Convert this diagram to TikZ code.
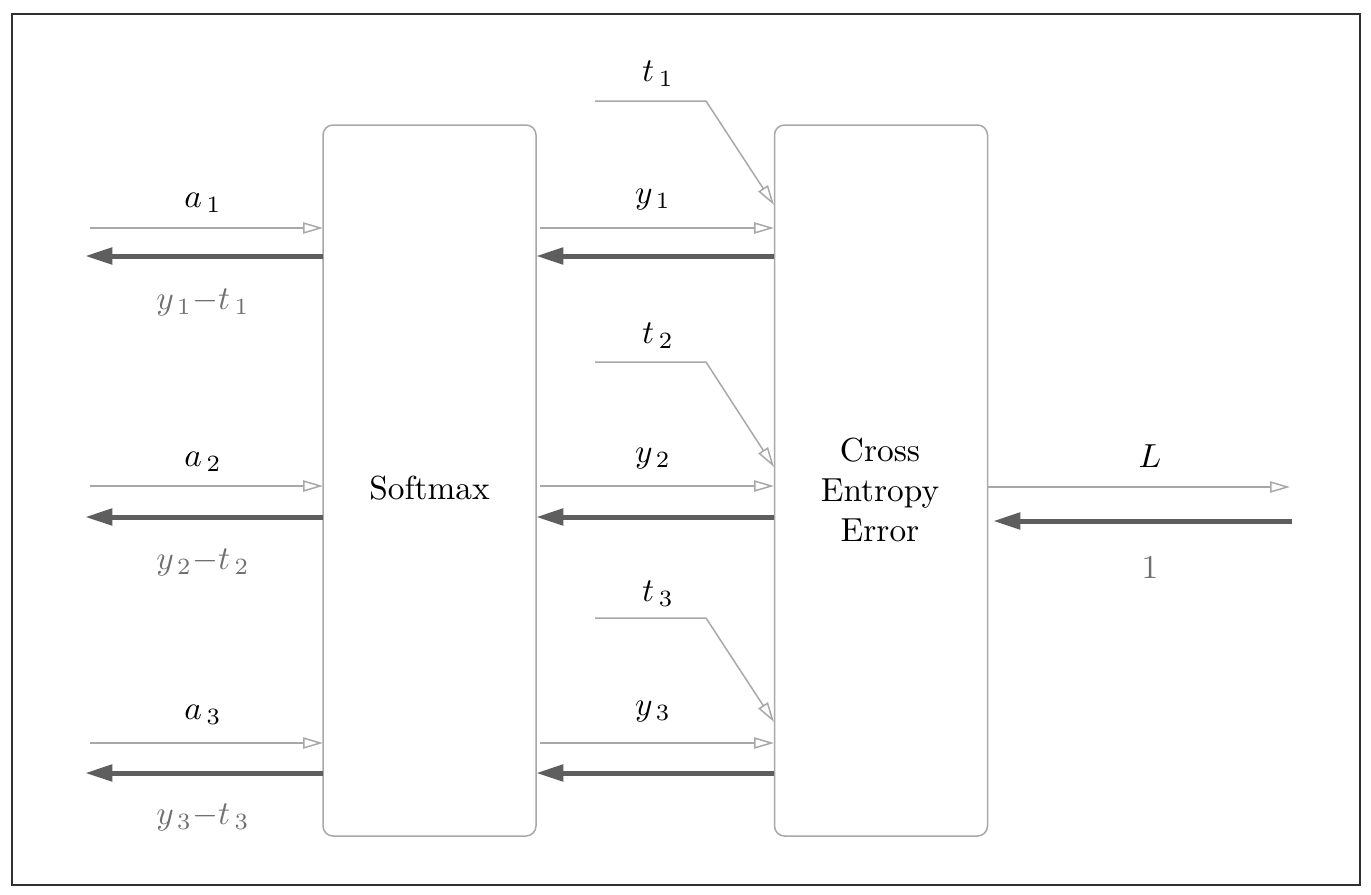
\documentclass[tikz,border=0pt]{standalone}
\usetikzlibrary{arrows.meta}
\definecolor{fwd}{HTML}{A8A8A8}
\definecolor{bwd}{HTML}{5E5E5E}
\definecolor{lblgray}{HTML}{707070}
\definecolor{frame}{HTML}{303030}
\tikzset{
  fwdarrow/.style={draw=fwd, line width=0.45pt, -{Triangle[open,length=6pt,width=3.4pt]}},
  bwdarrow/.style={draw=bwd, line width=1.5pt, -{Triangle[length=8.2pt,width=4.8pt]}},
  layerbox/.style={draw=fwd, line width=0.45pt, rounded corners=3pt, minimum width=63.9pt, minimum height=213.3pt, inner sep=0pt},
  boxtext/.style={inner sep=0pt, align=center, font=\fontsize{10}{12}\selectfont},
  lbl/.style={inner sep=0pt, font=\fontsize{10}{12}\selectfont},
  glbl/.style={lbl, text=lblgray},
}
\begin{document}
\begin{tikzpicture}[x=0.3pt,y=-0.3pt]
\useasboundingbox (0,0) rectangle (1371,895);
\draw[frame, line width=0.35pt] (12,14) rectangle (1360,885);
% boxes
\node[layerbox] (sm) at (429.5,480.5) {};
\node[layerbox] (ce) at (881,480.5) {};
\node[boxtext] (smtext) at (429.5,488) {Softmax};
\node[boxtext] (cetext) at (880,490) {Cross\\Entropy\\Error};
% left side and middle
\foreach \i/\yf/\yb/\ya/\yd in {1/228/256/203/302, 2/486/517/462/562, 3/743/773/715/817}{
  \coordinate (ain\i) at (90,\yf);
  \coordinate (smin\i) at (323,\yf);
  \coordinate (smout\i) at (323,\yb);
  \coordinate (gout\i) at (85,\yb);
  \draw[fwdarrow] (ain\i) -- (smin\i);
  \draw[bwdarrow] (smout\i) -- (gout\i);
  \node[lbl] (alab\i) at (203,\ya) {$a_{\,\i}$};
  \node[glbl] (dlab\i) at (203,\yd) {$y_{\,\i}{-}t_{\,\i}$};
  \coordinate (yst\i) at (540,\yf);
  \coordinate (cein\i) at (774,\yf);
  \coordinate (ceout\i) at (774,\yb);
  \coordinate (smback\i) at (536,\yb);
  \draw[fwdarrow] (yst\i) -- (cein\i);
  \draw[bwdarrow] (ceout\i) -- (smback\i);
  \node[lbl] (ylab\i) at (653,\ya-3) {$y_{\,\i}$};
}
% t inputs
\foreach \i/\yt/\ye/\yl in {1/101/205/74, 2/362/467/336, 3/618/722/594}{
  \coordinate (tst\i) at (595,\yt);
  \coordinate (tbend\i) at (706,\yt);
  \coordinate (tend\i) at (774,\ye);
  \draw[fwdarrow] (tst\i) -- (tbend\i) -- (tend\i);
  \node[lbl] (tlab\i) at (658,\yl) {$t_{\,\i}$};
}
% right side
\coordinate (Lst) at (988,487);
\coordinate (Lend) at (1290,487);
\coordinate (one) at (1292,521);
\coordinate (ceback) at (993,521);
\draw[fwdarrow] (Lst) -- (Lend);
\draw[bwdarrow] (one) -- (ceback);
\node[lbl] (Llab) at (1150,456) {$L$};
\node[glbl] (onelab) at (1150,568) {$1$};
\end{tikzpicture}
\end{document}
